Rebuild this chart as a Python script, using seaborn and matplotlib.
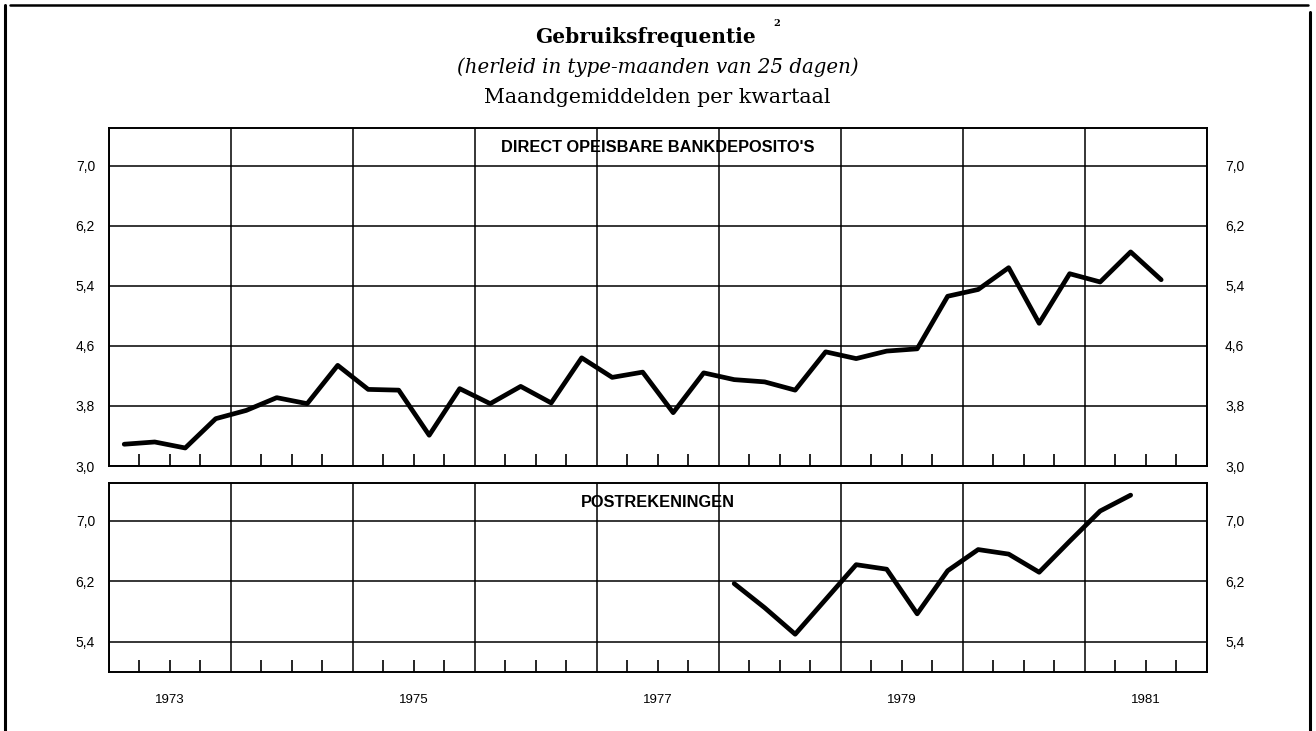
import numpy as np
import pandas as pd
import matplotlib
matplotlib.use("Agg")
import matplotlib.pyplot as plt
import seaborn as sns
from matplotlib.lines import Line2D
from matplotlib.ticker import FixedLocator, FixedFormatter, FuncFormatter

# ── Data ──────────────────────────────────────────────────────────────────────
# quarterly monthly averages, top series starts 1973 Q1, bottom 1978 Q1
bank_start = 1973
bank_values = [3.29, 3.32, 3.24, 3.63,
               3.74, 3.91, 3.83, 4.34,
               4.02, 4.01, 3.41, 4.03,
               3.83, 4.06, 3.84, 4.44,
               4.18, 4.25, 3.71, 4.24,
               4.15, 4.12, 4.01, 4.52,
               4.43, 4.53, 4.56, 5.26,
               5.35, 5.64, 4.90, 5.56,
               5.45, 5.85, 5.48]

post_start = 1978
post_values = [6.17, 5.85, 5.50, 5.96,
               6.42, 6.36, 5.77, 6.34,
               6.62, 6.56, 6.32, 6.73,
               7.13, 7.34]

years = list(range(1973, 1983))
year_labels = ["1973", "1975", "1977", "1979", "1981"]
yticks_bank = [3.0, 3.8, 4.6, 5.4, 6.2, 7.0]
yticks_post = [5.4, 6.2, 7.0]


def quarterly(start, values):
    n = np.arange(len(values))
    return pd.DataFrame({"pos": start + n // 4 + (n % 4 + 0.5) / 4,
                         "value": values})


bank = quarterly(bank_start, bank_values)
post = quarterly(post_start, post_values)

# ── Style ─────────────────────────────────────────────────────────────────────
sns.set_style("white", {"text.color": "black", "xtick.color": "black",
                        "ytick.color": "black", "axes.labelcolor": "black"})
plt.rcParams["font.family"] = ["Liberation Sans", "DejaVu Sans"]

fig = plt.figure(figsize=(13.16, 7.31), dpi=100)
ax1 = fig.add_axes([0.0828, 0.3625, 0.8343, 0.4624])
ax2 = fig.add_axes([0.0828, 0.0807, 0.8343, 0.2585])

sns.lineplot(data=bank, x="pos", y="value", ax=ax1, color="black", lw=3.4)
sns.lineplot(data=post, x="pos", y="value", ax=ax2, color="black", lw=3.4)

comma = FuncFormatter(lambda v, _: f"{v:.1f}".replace(".", ","))

quarter_pos = [y + q / 4 for y in years[:-1] for q in (1, 2, 3)]
quarter_lab = [str(int(p - 0.5)) if (p % 1 == 0.5 and str(int(p - 0.5)) in year_labels) else ""
               for p in quarter_pos]

for ax, ylim, yt in [(ax1, (3.0, 7.5), yticks_bank), (ax2, (5.0, 7.5), yticks_post)]:
    ax.set_xlim(years[0], years[-1])
    ax.set_ylim(*ylim)
    ax.set_xticks(years)
    ax.set_xticklabels([])
    ax.xaxis.set_minor_locator(FixedLocator(quarter_pos))
    ax.set_yticks(yt)
    ax.yaxis.set_major_formatter(comma)
    ax.grid(True, which="major", color="black", lw=1.1)
    ax.tick_params(axis="x", which="major", length=0)
    ax.tick_params(axis="x", which="minor", direction="in", length=9, width=1.2,
                   color="black", bottom=True, top=False)
    ax.tick_params(axis="y", length=0, labelleft=True, labelsize=10, pad=10)
    # right-hand scale sits a little further out
    right = ax.secondary_yaxis("right")
    right.set_yticks(yt)
    right.yaxis.set_major_formatter(comma)
    right.tick_params(length=0, labelsize=10, pad=13)
    right.spines["right"].set_visible(False)
    for s in ax.spines.values():
        s.set_color("black")
        s.set_linewidth(1.4)
    ax.set_xlabel("")
    ax.set_ylabel("")

ax1.xaxis.set_minor_formatter(FixedFormatter([""] * len(quarter_pos)))
ax2.xaxis.set_minor_formatter(FixedFormatter(quarter_lab))
ax2.tick_params(axis="x", which="minor", labelsize=9.5, pad=16)

ax1.text(0.5, 0.941, "DIRECT OPEISBARE BANKDEPOSITO'S", transform=ax1.transAxes,
         ha="center", va="center", fontsize=11.8, fontweight="bold")
ax2.text(0.5, 0.899, "POSTREKENINGEN", transform=ax2.transAxes,
         ha="center", va="center", fontsize=11.8, fontweight="bold")

# ── Titles ────────────────────────────────────────────────────────────────────
serif = ["DejaVu Serif"]
fig.text(646 / 1316, 1 - 43 / 731, "Gebruiksfrequentie", ha="center", va="baseline",
         fontsize=14.5, fontweight="bold", family=serif)
fig.text(777 / 1316, 1 - 24 / 731, "2", ha="center", va="center",
         fontsize=7, fontweight="bold", family=serif)
fig.text(658 / 1316, 1 - 73 / 731, "(herleid in type-maanden van 25 dagen)",
         ha="center", va="baseline", fontsize=14.2, style="italic", family=serif)
fig.text(657 / 1316, 1 - 103 / 731, "Maandgemiddelden per kwartaal",
         ha="center", va="baseline", fontsize=14.8, family=serif)

# page border
W, H = 1316, 731
fig.add_artist(Line2D([10 / W, 1308 / W], [1 - 5 / H, 1 - 5 / H], color="black", lw=1.8))
fig.add_artist(Line2D([5 / W, 5 / W], [1 - 5 / H, 0], color="black", lw=2.2))
fig.add_artist(Line2D([1310 / W, 1310 / W], [1 - 12 / H, 0], color="black", lw=2.2))

fig.savefig("out.png", dpi=100, facecolor="white")
